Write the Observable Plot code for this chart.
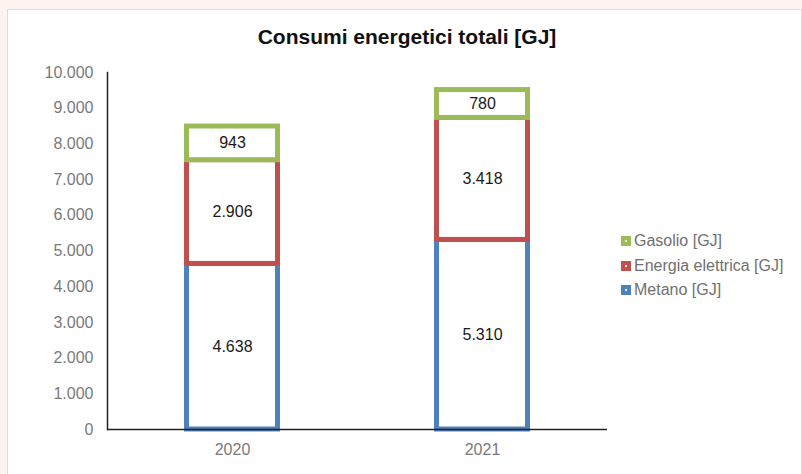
<!DOCTYPE html>
<html>
<head>
<meta charset="utf-8">
<script src="https://cdn.jsdelivr.net/npm/d3@7"></script>
<script src="https://cdn.jsdelivr.net/npm/@observablehq/plot@0.6"></script>
<style>
  html, body { margin: 0; padding: 0; }
  body { width: 802px; height: 474px; background: #fdf3f1; position: relative; overflow: hidden;
         font-family: "Liberation Sans", Arial, sans-serif; }
  #panel { position: absolute; left: 7px; top: 9px; width: 793px; height: 480px; background: #fff;
           border: 1px solid #dcdcdc; }
  #title { position: absolute; left: 0; top: 24px; width: 814px; text-align: center;
           font-weight: bold; font-size: 21px; color: #111; line-height: 26px; }
  #chart { position: absolute; left: 0; top: 55px; }
  #legend { position: absolute; left: 621px; top: 229px; font-size: 16px; color: #707070; }
  .row { height: 24.5px; line-height: 20px; display: flex; align-items: center; }
  .sw { width: 10px; height: 10px; margin-right: 3px; position: relative; }
  .sw::after { content: ""; position: absolute; left: 4px; top: 4px; width: 2px; height: 2px; background: rgba(255,255,255,0.8); }
</style>
</head>
<body>
<div id="panel"></div>
<div id="title">Consumi energetici totali [GJ]</div>
<div id="chart"></div>
<div id="legend"></div>
<script>
const years = ["2020", "2021"];
const series = ["Metano [GJ]", "Energia elettrica [GJ]", "Gasolio [GJ]"];
const colors = ["#4f81bd", "#c0504d", "#9bbb59"];
const metano = [4638, 5310];
const energia = [2906, 3418];
const gasolio = [943, 780];
const yTicks = [0, 1000, 2000, 3000, 4000, 5000, 6000, 7000, 8000, 9000, 10000];
const legendOrder = ["Gasolio [GJ]", "Energia elettrica [GJ]", "Metano [GJ]"];

const it = d3.formatLocale({decimal: ",", thousands: ".", grouping: [3], currency: ["€", ""]});
const fmt = it.format(",d");

const data = [];
years.forEach((y, i) => {
  data.push({year: y, series: series[0], value: metano[i]});
  data.push({year: y, series: series[1], value: energia[i]});
  data.push({year: y, series: series[2], value: gasolio[i]});
});

const plot = Plot.plot({
  width: 802,
  height: 419,
  marginLeft: 107,
  marginRight: 195,
  marginTop: 17,
  marginBottom: 45,
  style: {fontFamily: "'Liberation Sans', Arial, sans-serif", background: "transparent"},
  x: {domain: years, padding: 0, label: null, tickSize: 0, tickPadding: 14},
  y: {domain: [0, 10000], ticks: yTicks, tickFormat: fmt, label: null, tickSize: 0, tickPadding: 14},
  color: {domain: series, range: colors},
  marks: [
    Plot.barY(data, {x: "year", y: "value", z: "series", order: series, stroke: "series", fill: "white",
      strokeWidth: 5, insetLeft: 79.5, insetRight: 79.5}),
    Plot.text(data, Plot.stackY({x: "year", y: "value", z: "series", order: series, text: d => fmt(d.value),
      fill: "#1a1a1a", fontSize: 16})),
    Plot.ruleY([0], {stroke: "#222", strokeWidth: 1.5}),
    Plot.frame({anchor: "left", stroke: "#222", strokeWidth: 1.5})
  ]
});
document.getElementById("chart").appendChild(plot);
d3.select(plot).selectAll("[aria-label='y-axis tick label'] text, [aria-label='x-axis tick label'] text")
  .attr("fill", "#7a7a7a").style("font-size", "16px");

const leg = document.getElementById("legend");
legendOrder.forEach(s => {
  const row = document.createElement("div");
  row.className = "row";
  const sw = document.createElement("span");
  sw.className = "sw";
  sw.style.background = colors[series.indexOf(s)];
  row.appendChild(sw);
  row.appendChild(document.createTextNode(s));
  leg.appendChild(row);
});
</script>
</body>
</html>
